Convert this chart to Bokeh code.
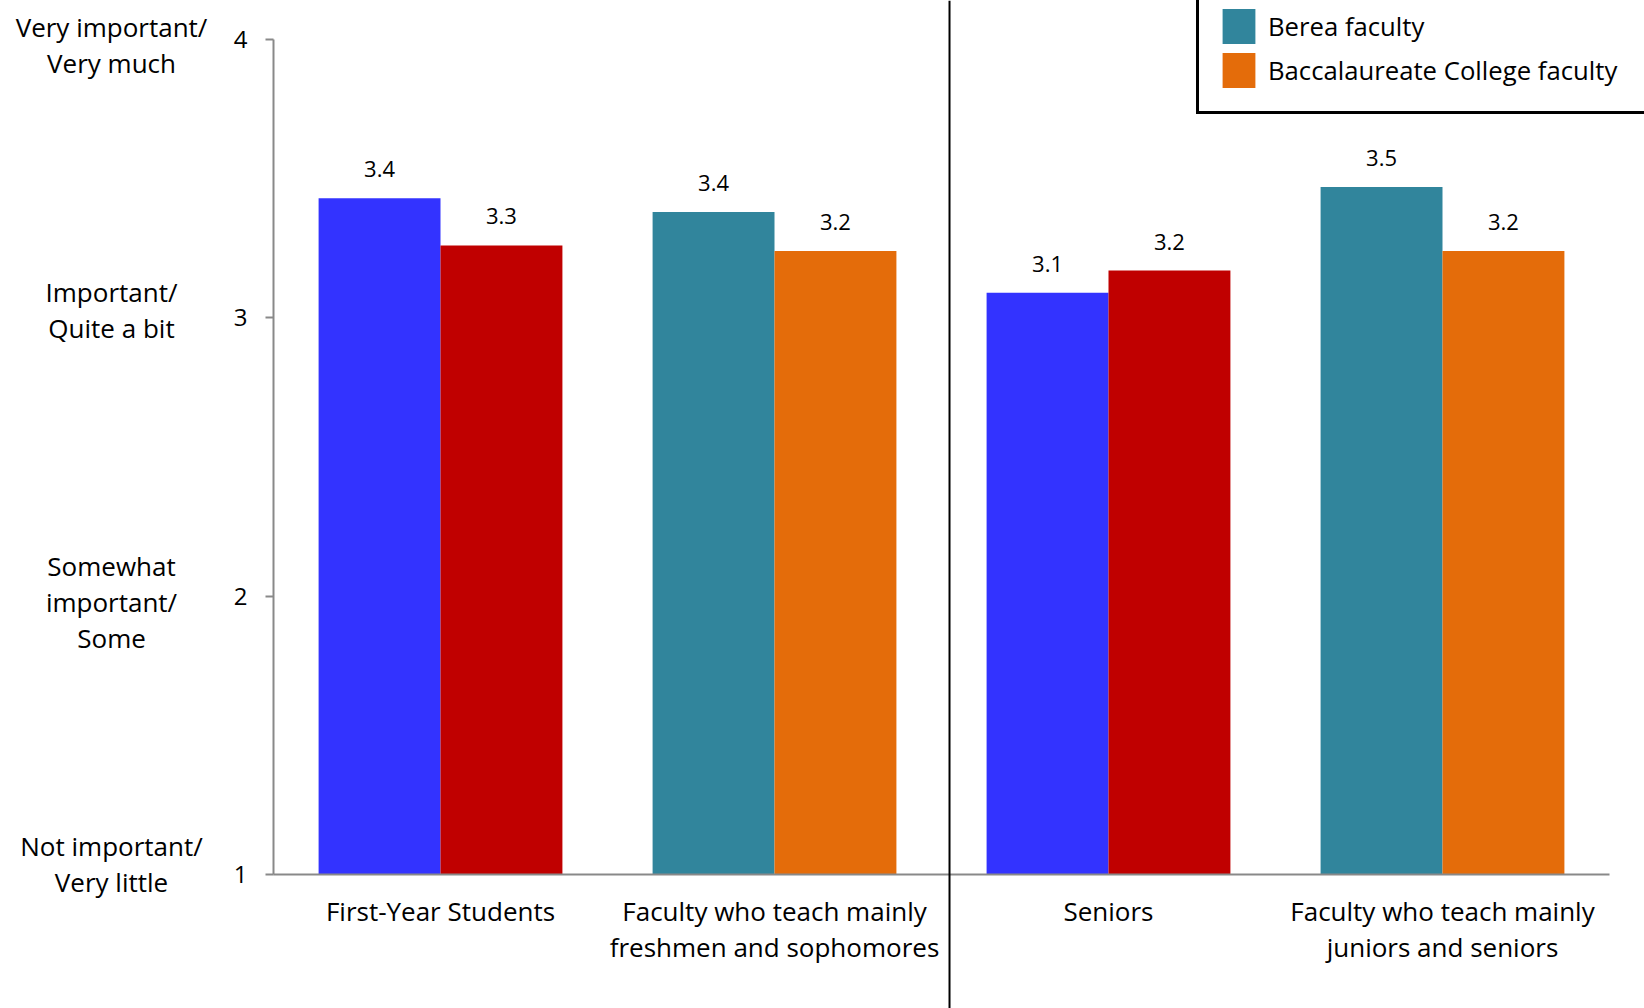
from bokeh.plotting import figure
from bokeh.models import (ColumnDataSource, Range1d, FixedTicker, Legend,
                          LegendItem, Label, Span)
from bokeh.transform import dodge
from bokeh.core.properties import value
from bokeh.embed import file_html
from bokeh.resources import INLINE

# ---- data ----
categories = ["First-Year Students",
              "Faculty who teach mainly freshmen and sophomores",
              "Seniors",
              "Faculty who teach mainly juniors and seniors"]
category_labels = ["First-Year Students",
                   "Faculty who teach mainly\nfreshmen and sophomores",
                   "Seniors",
                   "Faculty who teach mainly\njuniors and seniors"]
berea_values = [3.43, 3.38, 3.09, 3.47]          # Berea students / Berea faculty
baccalaureate_values = [3.26, 3.24, 3.17, 3.24]  # Baccalaureate College students / faculty
legend_labels = ["Berea faculty", "Baccalaureate College faculty"]
y_ticks = [1, 2, 3, 4]
y_scale_labels = ["Not important/\nVery little",
                  "Somewhat\nimportant/\nSome",
                  "Important/\nQuite a bit",
                  "Very important/\nVery much"]

# ---- styles ----
left_colors = ["#3333FF", "#31859C", "#3333FF", "#31859C"]
right_colors = ["#C00000", "#E46C0A", "#C00000", "#E46C0A"]
scale_label_nudge = [11, -6, 8, -6]   # px, small vertical nudges of the scale texts
FONT = "Open Sans"
AXIS_GREY = "#898989"

cat_pos = [i + 0.5 for i in range(len(categories))]   # slot centre of each category

src = ColumnDataSource(dict(
    pos=cat_pos,
    cat=categories,
    left=berea_values,
    right=baccalaureate_values,
    left_lbl=[f"{v:.1f}" for v in berea_values],
    right_lbl=[f"{v:.1f}" for v in baccalaureate_values],
    left_color=left_colors,
    right_color=right_colors,
))

W, H = 1644, 1008
p = figure(width=W, height=H, output_backend="svg", toolbar_location=None,
           x_range=Range1d(-0.8174, 4.1048),
           y_range=Range1d(0.5186, 4.1401),
           min_border_left=0, min_border_right=0,
           min_border_top=0, min_border_bottom=0)
p.outline_line_color = None
p.xgrid.visible = False
p.ygrid.visible = False
p.background_fill_color = "white"
p.border_fill_color = "white"

BW = 0.365
r_left = p.vbar(x=dodge("pos", -BW / 2), top="left", bottom=1, width=BW,
                source=src, fill_color="left_color", line_color=None)
r_right = p.vbar(x=dodge("pos", BW / 2), top="right", bottom=1, width=BW,
                 source=src, fill_color="right_color", line_color=None)

for col, lbl, off in (("left", "left_lbl", -BW / 2), ("right", "right_lbl", BW / 2)):
    p.text(x=dodge("pos", off), y=col, text=lbl, source=src,
           text_align="center", text_baseline="alphabetic", y_offset=-29,
           text_font=value(FONT), text_font_size="22px", text_color="black")

# y axis (drawn at the left edge of the first category slot)
ya = p.yaxis[0]
ya.fixed_location = 0
ya.ticker = FixedTicker(ticks=y_ticks)
ya.bounds = (1, 4)
ya.axis_line_color = AXIS_GREY
ya.axis_line_width = 2
ya.major_tick_line_color = AXIS_GREY
ya.major_tick_line_width = 2
ya.major_tick_out = 8
ya.major_tick_in = 0
ya.minor_tick_line_color = None
ya.major_label_text_font = FONT
ya.major_label_text_font_size = "24px"
ya.major_label_text_color = "black"
ya.major_label_standoff = 18

# x axis (categories)
xa = p.xaxis[0]
xa.fixed_location = 1
xa.ticker = FixedTicker(ticks=cat_pos)
xa.bounds = (0, len(categories))
xa.major_label_overrides = {pos: lbl for pos, lbl in zip(cat_pos, category_labels)}
xa.axis_line_color = AXIS_GREY
xa.axis_line_width = 2
xa.major_tick_line_color = None
xa.major_tick_out = 0
xa.major_tick_in = 0
xa.minor_tick_line_color = None
xa.major_label_text_font = FONT
xa.major_label_text_font_size = "26px"
xa.major_label_text_color = "black"
xa.major_label_text_line_height = 1.02
xa.major_label_standoff = 18

# descriptive scale labels left of the y axis
for t, txt, nudge in zip(y_ticks, y_scale_labels, scale_label_nudge):
    p.add_layout(Label(x=-0.485, y=t, text=txt, y_offset=nudge,
                       text_align="center", text_baseline="middle",
                       text_font=FONT, text_font_size="26px", text_color="black",
                       text_line_height=1.0))

# divider between the two halves
p.add_layout(Span(location=2.024, dimension="height", line_color="black", line_width=2))

legend = Legend(items=[LegendItem(label=legend_labels[0], renderers=[r_left], index=1),
                       LegendItem(label=legend_labels[1], renderers=[r_right], index=1)],
                location=(1196, 894), orientation="vertical",
                padding=19, margin=0, spacing=0,
                glyph_width=41, glyph_height=44, label_height=44, label_width=420,
                label_standoff=9,
                label_text_font=FONT, label_text_font_size="25.7px", label_text_color="black",
                border_line_color="black", border_line_width=3, border_line_alpha=1,
                background_fill_color="white", background_fill_alpha=1)
p.add_layout(legend, "center")

open("out.html", "w").write(file_html(p, INLINE))
